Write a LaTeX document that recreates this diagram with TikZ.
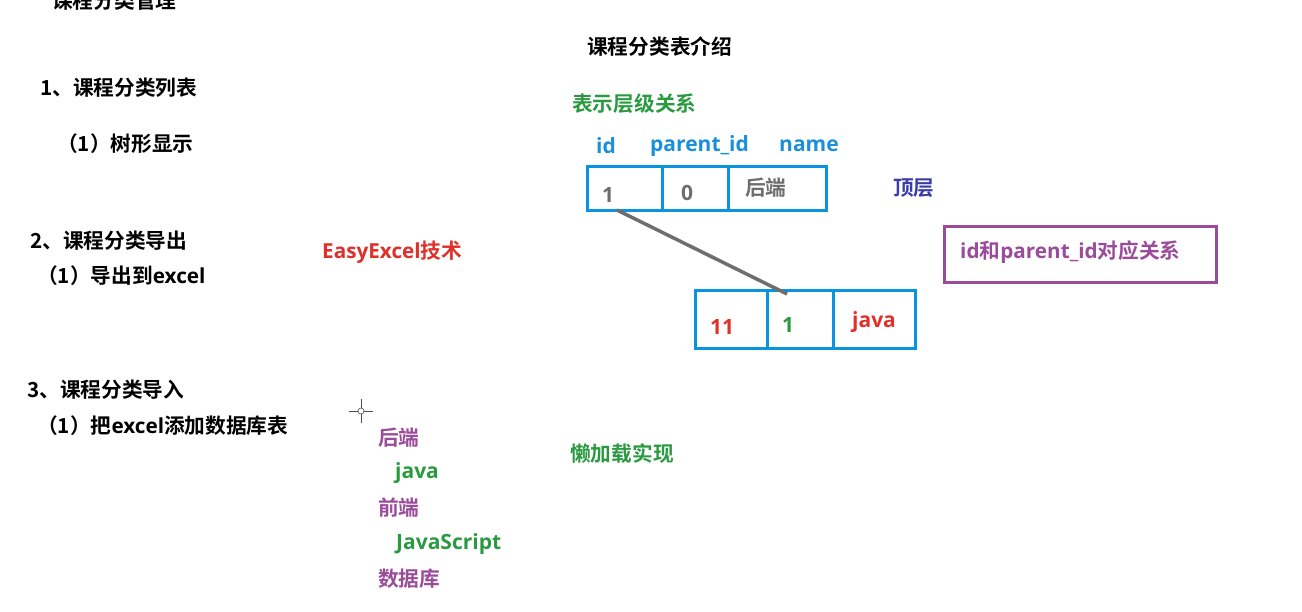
\documentclass[tikz,border=0pt]{standalone}
\usepackage{fontspec}
\usetikzlibrary{calc}
\setmainfont{Noto Sans CJK SC}[BoldFont=* Bold]
\newfontfamily\lat{Open Sans}[BoldFont=* Bold]
\definecolor{tblue}{HTML}{1A8FDA}
\definecolor{bblue}{HTML}{0A93E0}
\definecolor{tgreen}{HTML}{2A9A40}
\definecolor{tred}{HTML}{E0302A}
\definecolor{tpurple}{HTML}{9A4C9A}
\definecolor{tgray}{HTML}{6E6E6E}
\definecolor{tnavy}{HTML}{3C3CA8}
\begin{document}
\begin{tikzpicture}[x=1pt,y=-1pt,
  txt/.style={inner sep=0pt,anchor=west,font=\fontsize{20.7}{24}\selectfont\bfseries},
  ltxt/.style={inner sep=0pt,anchor=west,font=\fontsize{21}{24}\selectfont\lat\bfseries},
  cell/.style={draw=bblue,line width=3pt},
  link/.style={draw=tgray,line width=3.5pt}]
\useasboundingbox (0,0) rectangle (1302,611);
% left column
\node[txt] (t0) at (52,1) {课程分类管理};
\node[txt] (h1) at (40,88) {1、课程分类列表};
\node[txt] (h1a) at (57,144) {（1）树形显示};
\node[txt] (h2) at (30,241) {2、课程分类导出};
\node[txt] (h2a) at (37,276) {（1）导出到{\lat excel}};
\node[txt] (h3) at (27,390) {3、课程分类导入};
\node[txt] (h3a) at (37,426) {（1）把{\lat excel}添加数据库表};
\node[txt,text=tred] (ee) at (322,252) {{\lat EasyExcel}技术};
% title
\node[txt] (title) at (587,47) {课程分类表介绍};
\node[txt,text=tgreen] (lvl) at (572,104) {表示层级关系};
\node[ltxt,text=tblue] (cid) at (596,146) {id};
\node[ltxt,text=tblue] (cpid) at (650,146) {parent\_id};
\node[ltxt,text=tblue] (cname) at (779,146) {name};
% top table
\draw[cell] (587,166) rectangle (826,210);
\draw[cell] (662,166) -- (662,210);
\draw[cell] (728,166) -- (728,210);
\node[ltxt,text=tgray] (a1) at (602,195) {1};
\node[ltxt,text=tgray] (a2) at (681,193) {0};
\node[txt,text=tgray] (a3) at (745,188) {后端};
\node[txt,text=tnavy] (top) at (893,188) {顶层};
% relation box
\node[draw=tpurple,line width=3pt,minimum width=272pt,minimum height=56pt,inner sep=0pt] (rel) at (1080,254) {};
\node[txt,text=tpurple] (relt) at (960,252) {{\lat id}和{\lat parent\_id}对应关系};
% bottom table
\draw[cell] (695,290) rectangle (915,348);
\draw[cell] (767,290) -- (767,348);
\draw[cell] (833,290) -- (833,348);
\node[ltxt,text=tred] (b1) at (710,327) {11};
\node[ltxt,text=tgreen] (b2) at (782,325) {1};
\node[ltxt,text=tred] (b3) at (852,322) {java};
\coordinate (p1) at (617,210);
\coordinate (p2) at (787,294);
\draw[link] (p1) -- (p2);
% cursor
\coordinate (cur) at (361,411);
\draw[black!70,line width=0.8pt] ($(cur)+(-12,0)$) -- ($(cur)+(-3,0)$) ($(cur)+(3,0)$) -- ($(cur)+(12,0)$) ($(cur)+(0,-12)$) -- ($(cur)+(0,-3)$) ($(cur)+(0,3)$) -- ($(cur)+(0,12)$);
\draw[black!70,line width=0.6pt] (cur) circle (3);
% tree
\node[txt,text=tpurple] (l1) at (378,438) {后端};
\node[ltxt,text=tgreen] (l2) at (395,473) {java};
\node[txt,text=tpurple] (l3) at (378,508) {前端};
\node[ltxt,text=tgreen] (l4) at (396,544) {JavaScript};
\node[txt,text=tpurple] (l5) at (378,579) {数据库};
\node[txt,text=tgreen] (lazy) at (570,454) {懒加载实现};
\end{tikzpicture}
\end{document}
